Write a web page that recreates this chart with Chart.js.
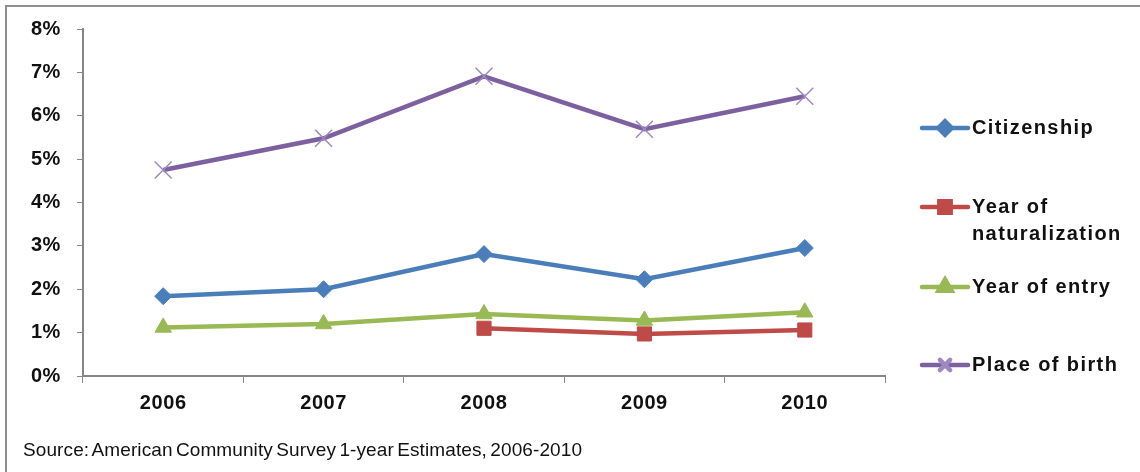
<!DOCTYPE html>
<html>
<head>
<meta charset="utf-8">
<script src="https://cdn.jsdelivr.net/npm/chart.js"></script>
<style>
  html, body { margin: 0; padding: 0; background: #fff; }
  #wrap { position: relative; width: 1140px; height: 472px; overflow: hidden; }
  #frame { position: absolute; left: 5px; top: 5px; right: -10px; bottom: -10px; border-top: 2px solid #8f8f8f; border-left: 2px solid #8f8f8f; }
  #source { position: absolute; left: 23px; top: 439px; font: 19px "Liberation Sans", Arial, sans-serif; letter-spacing: 0.1px; word-spacing: -2px; color: #111; }
  canvas { position: absolute; left: 0; top: 0; }
</style>
</head>
<body>
<div id="wrap">
  <canvas id="chart" width="1140" height="472"></canvas>
  <div id="frame"></div>
  <div id="source">Source: American Community Survey 1-year Estimates, 2006-2010</div>
</div>
<script>
const years = ['2006', '2007', '2008', '2009', '2010'];
const citizenship = [1.84, 2.0, 2.81, 2.23, 2.95];
const naturalization = [null, null, 1.1, 0.97, 1.06];
const entry = [1.12, 1.2, 1.43, 1.28, 1.47];
const birth = [4.75, 5.48, 6.91, 5.69, 6.45];
const yTicks = [0, 1, 2, 3, 4, 5, 6, 7, 8];

const font = '"Liberation Sans", Arial, sans-serif';
const axisGray = '#868686';

function series(label, data, color, style, radius, order, markerColor, markerWidth) {
    return {
        label: label,
        data: data,
        borderColor: color,
        backgroundColor: color,
        borderWidth: 4.5,
        pointStyle: style,
        pointRadius: radius,
        pointHoverRadius: radius,
        pointBackgroundColor: markerColor || color,
        pointBorderColor: markerColor || color,
        pointBorderWidth: markerWidth || 1,
        tension: 0,
        order: order
    };
}

const datasets = [
    series('Citizenship', citizenship, '#4A7EBB', 'rectRot', 8.5, 3),
    series('Year of naturalization', naturalization, '#BE4B48', 'rect', 10, 2),
    series('Year of entry', entry, '#98B954', 'triangle', 9.5, 1),
    series('Place of birth', birth, '#7D60A0', 'crossRot', 12, 0, '#9E88C0', 1.5)
];

// legend drawn on the right, multi-line labels like the original
const legendRows = [
    { y: 128, lines: ['Citizenship'], scale: 0.8 },
    { y: 207, lines: ['Year of', 'naturalization'], scale: 0.8 },
    { y: 287, lines: ['Year of entry'], scale: 0.8 },
    { y: 365, lines: ['Place of birth'], scale: 0.6 }
];

const sideLegend = {
    id: 'sideLegend',
    beforeDraw(chart) {
        chart.ctx.letterSpacing = '0.6px';
    },
    afterDraw(chart) {
        const ctx = chart.ctx;
        ctx.save();
        chart.data.datasets.forEach((ds, i) => {
            const row = legendRows[i];
            ctx.strokeStyle = ds.borderColor;
            ctx.lineWidth = 4.5;
            ctx.lineCap = 'round';
            ctx.beginPath();
            ctx.moveTo(922, row.y);
            ctx.lineTo(968, row.y);
            ctx.stroke();
            ctx.fillStyle = ds.pointBackgroundColor;
            ctx.strokeStyle = ds.pointBorderColor;
            Chart.helpers.drawPoint(ctx, {
                pointStyle: ds.pointStyle,
                radius: ds.pointRadius * row.scale,
                borderWidth: ds.pointBorderWidth,
                rotation: 0
            }, 945, row.y);
            ctx.fillStyle = '#111';
            ctx.font = 'bold 20px ' + font;
            ctx.letterSpacing = '1.4px';
            ctx.textBaseline = 'middle';
            ctx.textAlign = 'left';
            row.lines.forEach((t, k) => ctx.fillText(t, 972, row.y + k * 27));
        });
        ctx.restore();
    }
};

new Chart(document.getElementById('chart'), {
    type: 'line',
    data: { labels: years, datasets: datasets },
    plugins: [sideLegend],
    options: {
        responsive: false,
        animation: false,
        devicePixelRatio: 1,
        layout: { padding: { top: 29, right: 255, left: 0, bottom: 0 } },
        plugins: {
            legend: { display: false },
            tooltip: { enabled: false }
        },
        scales: {
            x: {
                offset: true,
                grid: { drawOnChartArea: false, drawTicks: true, tickLength: 7, color: axisGray, offset: true },
                border: { color: axisGray, width: 2 },
                ticks: { color: '#111', padding: 8, font: { family: font, size: 20, weight: 'bold' } },
                afterFit(s) { s.height = 96; }
            },
            y: {
                min: 0,
                max: 8,
                afterBuildTicks(s) { s.ticks = yTicks.map(v => ({ value: v })); },
                grid: { drawOnChartArea: false, drawTicks: true, tickLength: 6, color: axisGray },
                border: { color: axisGray, width: 2 },
                ticks: {
                    color: '#111',
                    padding: 16,
                    font: { family: font, size: 20, weight: 'bold' },
                    callback: v => v + '%'
                },
                afterFit(s) { s.width = 83; }
            }
        }
    }
});
</script>
</body>
</html>
